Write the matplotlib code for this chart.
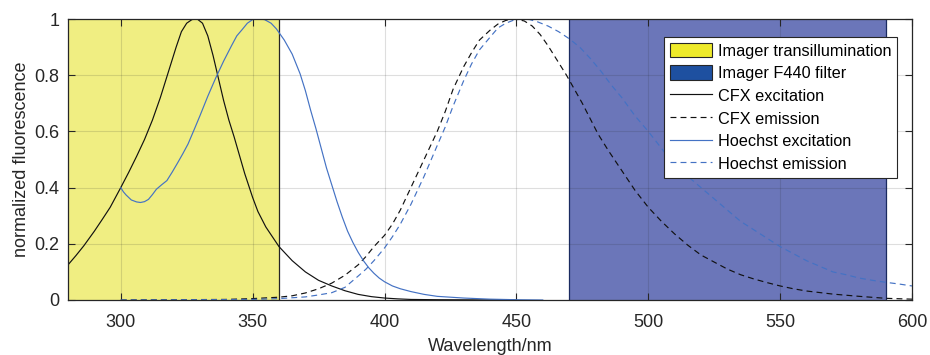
import matplotlib
matplotlib.use("Agg")
import matplotlib.pyplot as plt
from matplotlib.patches import Patch
from matplotlib.lines import Line2D

plt.rcParams['font.family'] = ['Liberation Sans', 'DejaVu Sans']

# ---------------- data ----------------
cfx_ex_wl = [280, 283, 286, 290, 293, 296, 300, 303, 306, 309, 312, 315, 318, 321, 323, 325, 327, 329,
             331, 333, 335, 337, 339, 341, 343, 345, 347, 350, 352, 355, 360, 365, 370, 375, 380, 385,
             390, 395, 400, 405, 410, 420, 450]
cfx_ex = [0.125, 0.158, 0.193, 0.245, 0.287, 0.33, 0.40, 0.454, 0.511, 0.571, 0.64, 0.72, 0.81, 0.90,
          0.955, 0.985, 0.998, 1.00, 0.985, 0.94, 0.87, 0.79, 0.71, 0.64, 0.58, 0.515, 0.45, 0.365,
          0.315, 0.26, 0.19, 0.14, 0.10, 0.07, 0.05, 0.033, 0.02, 0.012, 0.007, 0.004, 0.002, 0.001, 0.0]

hoe_ex_wl = [300, 301, 302, 304, 306, 307.5, 309, 310.5, 312, 313.5, 315.5, 317.5, 319.5, 321.5, 323.5,
             325.5, 328, 330, 333, 336, 339, 342, 344, 346, 348, 350, 352, 354.5, 357, 359, 362, 365,
             368, 370, 372, 374, 376, 378, 380, 382, 384, 386, 388, 390, 392, 394, 396, 398, 400, 403,
             406, 410, 415, 420, 430, 440, 450, 460]
hoe_ex = [0.40, 0.385, 0.374, 0.356, 0.349, 0.347, 0.35, 0.358, 0.375, 0.394, 0.41, 0.425, 0.455, 0.487,
          0.52, 0.555, 0.61, 0.655, 0.725, 0.79, 0.85, 0.905, 0.94, 0.962, 0.985, 0.998, 1.00, 0.998,
          0.985, 0.965, 0.925, 0.875, 0.805, 0.745, 0.675, 0.61, 0.54, 0.47, 0.41, 0.35, 0.295, 0.245,
          0.205, 0.17, 0.14, 0.115, 0.095, 0.078, 0.065, 0.05, 0.04, 0.03, 0.02, 0.013, 0.007, 0.003,
          0.001, 0.0]

cfx_em_wl = [300, 340, 350, 360, 365, 370, 375, 380, 385, 390, 393, 396, 400, 403, 406, 410, 415, 420,
             423, 426, 430, 433, 436, 440, 443, 446, 449.5, 453, 456, 459, 462, 465, 469, 472, 475, 478,
             481, 485, 490, 495, 500, 505, 510, 515, 520, 525, 530, 535, 540, 545, 550, 555, 560, 570,
             580, 590, 600]
cfx_em = [0.0, 0.002, 0.005, 0.01, 0.015, 0.025, 0.04, 0.06, 0.088, 0.125, 0.155, 0.19, 0.23, 0.27,
          0.32, 0.40, 0.50, 0.60, 0.67, 0.75, 0.83, 0.88, 0.925, 0.96, 0.982, 0.995, 1.00, 0.993, 0.975,
          0.945, 0.905, 0.86, 0.80, 0.75, 0.70, 0.645, 0.59, 0.53, 0.46, 0.39, 0.33, 0.28, 0.235, 0.195,
          0.16, 0.135, 0.11, 0.09, 0.075, 0.062, 0.05, 0.04, 0.032, 0.021, 0.013, 0.006, 0.003]

hoe_em_wl = [300, 350, 360, 370, 375, 380, 385, 390, 393, 396, 400, 403, 406, 410, 415, 420, 423, 426,
             430, 433, 436, 440, 443, 446, 449, 452, 455, 458, 462, 466, 470, 474, 478, 482, 486, 490,
             495, 500, 505, 510, 515, 520, 525, 530, 535, 540, 545, 550, 555, 560, 565, 570, 575, 580,
             585, 590, 595, 600]
hoe_em = [0.0, 0.002, 0.005, 0.011, 0.018, 0.026, 0.045, 0.085, 0.11, 0.14, 0.185, 0.225, 0.27, 0.34,
          0.44, 0.55, 0.615, 0.69, 0.78, 0.84, 0.89, 0.935, 0.968, 0.985, 0.996, 1.00, 0.998, 0.99,
          0.975, 0.955, 0.93, 0.90, 0.86, 0.815, 0.765, 0.72, 0.655, 0.60, 0.54, 0.48, 0.44, 0.40,
          0.36, 0.32, 0.28, 0.25, 0.22, 0.19, 0.165, 0.14, 0.12, 0.10, 0.09, 0.078, 0.07, 0.063,
          0.057, 0.05]

trans_band = [280, 360]
f440_band = [470, 590]

labels = ["Imager transillumination", "Imager F440 filter", "CFX excitation",
          "CFX emission", "Hoechst excitation", "Hoechst emission"]
xticks = [300, 350, 400, 450, 500, 550, 600]
yticks = [0, 0.2, 0.4, 0.6, 0.8, 1]
ytick_labels = ["0", "0.2", "0.4", "0.6", "0.8", "1"]

# ---------------- style ----------------
yellow_area = '#F0EE82'
yellow_leg = '#EEEA2A'
blue_area = '#6B76B9'
blue_leg = '#1E50A0'
black = '#111111'
hblue = '#4472C4'
axcol = '#262626'
dash = (0, (5, 3.5))
lw = 0.85

fig = plt.figure(figsize=(9.3, 3.55), dpi=100)
ax = fig.add_axes([68/930, 1-300/355, 844/930, 281/355])

ax.axvspan(*trans_band, color=yellow_area, zorder=0.3, lw=0)
ax.axvline(trans_band[1], color=axcol, lw=0.9, zorder=0.35)
ax.axvspan(*f440_band, color=blue_area, zorder=0.3, lw=0)
ax.axvline(f440_band[0], color='#1a2a60', lw=0.9, zorder=0.35)
ax.axvline(f440_band[1], color='#1a2a60', lw=0.9, zorder=0.35)

ax.plot(cfx_ex_wl, cfx_ex, color=black, lw=lw, zorder=2)
ax.plot(cfx_em_wl, cfx_em, color=black, lw=lw, ls=dash, zorder=2)
ax.plot(hoe_ex_wl, hoe_ex, color=hblue, lw=lw, zorder=2)
ax.plot(hoe_em_wl, hoe_em, color=hblue, lw=lw, ls=dash, zorder=2)

ax.set_xlim(280, 600)
ax.set_ylim(0, 1)
ax.set_xticks(xticks)
ax.set_yticks(yticks)
ax.set_yticklabels(ytick_labels)
ax.set_axisbelow(True)
ax.grid(True, color=axcol, alpha=0.15, lw=0.8)
ax.tick_params(direction='in', length=5, width=0.8, colors=axcol, labelsize=13,
               top=True, right=True)
ax.tick_params(axis='x', pad=10)
ax.tick_params(axis='y', pad=6)
for s in ax.spines.values():
    s.set_color(axcol)
    s.set_linewidth(0.9)
ax.set_xlabel("Wavelength/nm", fontsize=13, color=axcol, labelpad=5)
ax.set_ylabel("normalized fluorescence", fontsize=13, color=axcol, labelpad=3)

handles = [Patch(facecolor=yellow_leg, edgecolor=axcol, lw=0.8),
           Patch(facecolor=blue_leg, edgecolor=axcol, lw=0.8),
           Line2D([], [], color=black, lw=lw),
           Line2D([], [], color=black, lw=lw, ls=dash),
           Line2D([], [], color=hblue, lw=lw),
           Line2D([], [], color=hblue, lw=lw, ls=dash)]
leg = ax.legend(handles, labels, loc='upper right', bbox_to_anchor=((897-68)/844, (300-37)/281),
                borderaxespad=0, fontsize=11.7, frameon=True, fancybox=False, framealpha=1,
                edgecolor=axcol, handlelength=2.6, handleheight=1.0, handletextpad=0.35,
                labelspacing=0.42, borderpad=0.35)
leg.get_frame().set_linewidth(0.8)
leg.set_zorder(5)

fig.savefig("out.png", dpi=100)
